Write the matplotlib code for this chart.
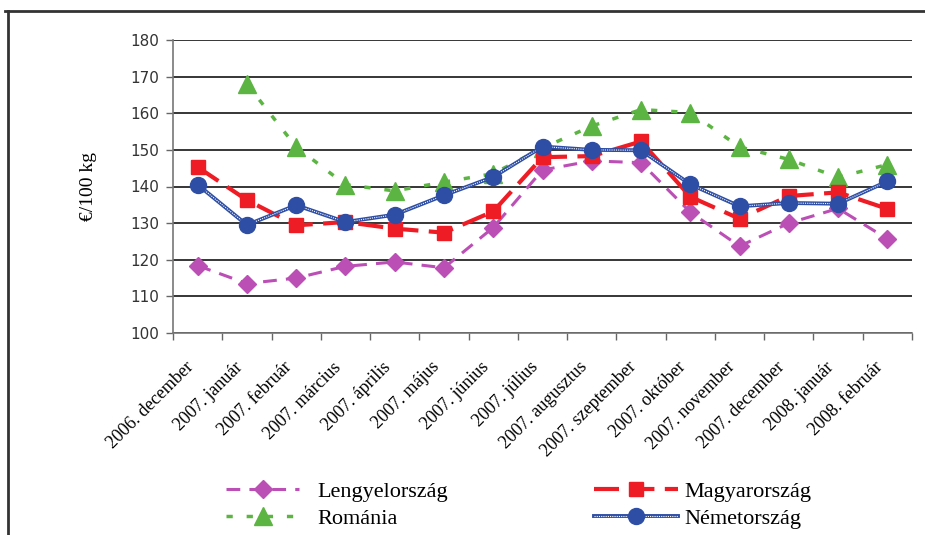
import matplotlib
matplotlib.use("Agg")
import matplotlib.pyplot as plt
from matplotlib.lines import Line2D
from matplotlib.legend_handler import HandlerTuple
from matplotlib.transforms import ScaledTranslation
import numpy as np

categories = ["2006. december", "2007. január", "2007. február", "2007. március",
              "2007. április", "2007. május", "2007. június", "2007. július",
              "2007. augusztus", "2007. szeptember", "2007. október", "2007. november",
              "2007. december", "2008. január", "2008. február"]

lengyel = [118.4, 113.5, 115.0, 118.2, 119.4, 117.8, 128.8, 144.5, 147.0, 146.5,
           133.0, 123.7, 130.0, 134.0, 125.7]
magyar = [145.3, 136.3, 129.4, 130.3, 128.5, 127.4, 133.2, 148.0, 148.3, 152.3,
          137.2, 131.2, 137.4, 138.4, 133.9]
romania = [np.nan, 168.0, 150.8, 140.5, 138.8, 141.2, 143.5, 150.5, 156.5, 161.0,
           160.2, 150.8, 147.4, 142.5, 146.0]
nemet = [140.5, 129.5, 134.9, 130.3, 132.3, 137.6, 142.6, 150.9, 150.0, 149.9,
         140.6, 134.6, 135.5, 135.3, 141.4]

yticks = [100, 110, 120, 130, 140, 150, 160, 170, 180]

c_purple = "#BC4FB6"
c_red = "#EE1D25"
c_green = "#5CB542"
c_blue = "#2D4EA4"

fig = plt.figure(figsize=(9.25, 5.35), dpi=100)
ax = fig.add_axes([173/925, 1-333/535, (912-173)/925, (333-40)/535])

x = np.arange(len(categories))

l_pl, = ax.plot(x, lengyel, color=c_purple, lw=2.2, dashes=(4.5, 3),
                marker="D", ms=9, mfc=c_purple, mec=c_purple, zorder=3)
l_hu, = ax.plot(x, magyar, color=c_red, lw=3, dashes=(6, 2.5),
                marker="s", ms=10, mfc=c_red, mec=c_red, zorder=4)
l_ro, = ax.plot(x, romania, color=c_green, lw=2.5, dashes=(1.8, 4),
                marker="^", ms=12.5, mfc=c_green, mec=c_green, zorder=2)
l_de1, = ax.plot(x, nemet, color=c_blue, lw=2.8, zorder=5)
l_de2, = ax.plot(x, nemet, color="white", lw=0.8, dashes=(1, 1), zorder=5.1)
l_de3, = ax.plot(x, nemet, ls="none", marker="o", ms=11.5, mfc=c_blue,
                 mec=c_blue, zorder=5.2)

ax.set_xlim(-0.5, len(categories) - 0.5)
ax.set_ylim(100, 180)
ax.set_yticks(yticks)
ax.set_yticklabels([str(v) for v in yticks], fontsize=11, color="#333333",
                   family="DejaVu Sans")
ax.yaxis.grid(True, color="black", lw=1.1)
ax.set_axisbelow(True)

ax.set_xticks(x)
ax.set_xticklabels(categories, rotation=45, ha="right", rotation_mode="anchor",
                   fontsize=13, family="Liberation Serif")
ax.tick_params(axis="x", which="major", length=0, pad=12)
offset = ScaledTranslation(-13/100, -9/100, fig.dpi_scale_trans)
for lab in ax.get_xticklabels():
    lab.set_transform(lab.get_transform() + offset)
ax.set_xticks(np.arange(-0.5, len(categories)), minor=True)
ax.tick_params(axis="x", which="minor", length=5, color="#666666", width=1)
ax.tick_params(axis="y", length=5, color="#666666", width=1, pad=5)

for s in ["top", "right"]:
    ax.spines[s].set_visible(False)
for s in ["left", "bottom"]:
    ax.spines[s].set_color("#777777")
    ax.spines[s].set_linewidth(1.2)

ax.set_ylabel("€/100 kg", family="Liberation Serif", fontsize=14, labelpad=24)

prop = {"family": "Liberation Serif", "size": 16}
leg1 = fig.legend([l_pl, l_ro], ["Lengyelország", "Románia"], loc="upper left",
                  bbox_to_anchor=(226/925, 1-481/535), frameon=False, prop=prop,
                  handlelength=3.3, handletextpad=0.8, labelspacing=0.3,
                  borderpad=0, borderaxespad=0)
leg2 = fig.legend([l_hu, (l_de1, l_de2, l_de3)], ["Magyarország", "Németország"],
                  loc="upper left", bbox_to_anchor=(594/925, 1-481/535),
                  frameon=False, prop=prop, handlelength=3.8, handletextpad=0.25,
                  labelspacing=0.3, borderpad=0, borderaxespad=0,
                  handler_map={tuple: HandlerTuple(ndivide=1)})

# outer frame (top and left)
fig.add_artist(Line2D([5/925, 1], [1-11/535, 1-11/535], color="#333333", lw=2,
                      transform=fig.transFigure))
fig.add_artist(Line2D([8/925, 8/925], [0, 1-11/535], color="#333333", lw=2,
                      transform=fig.transFigure))

fig.savefig("out.png", dpi=100)
